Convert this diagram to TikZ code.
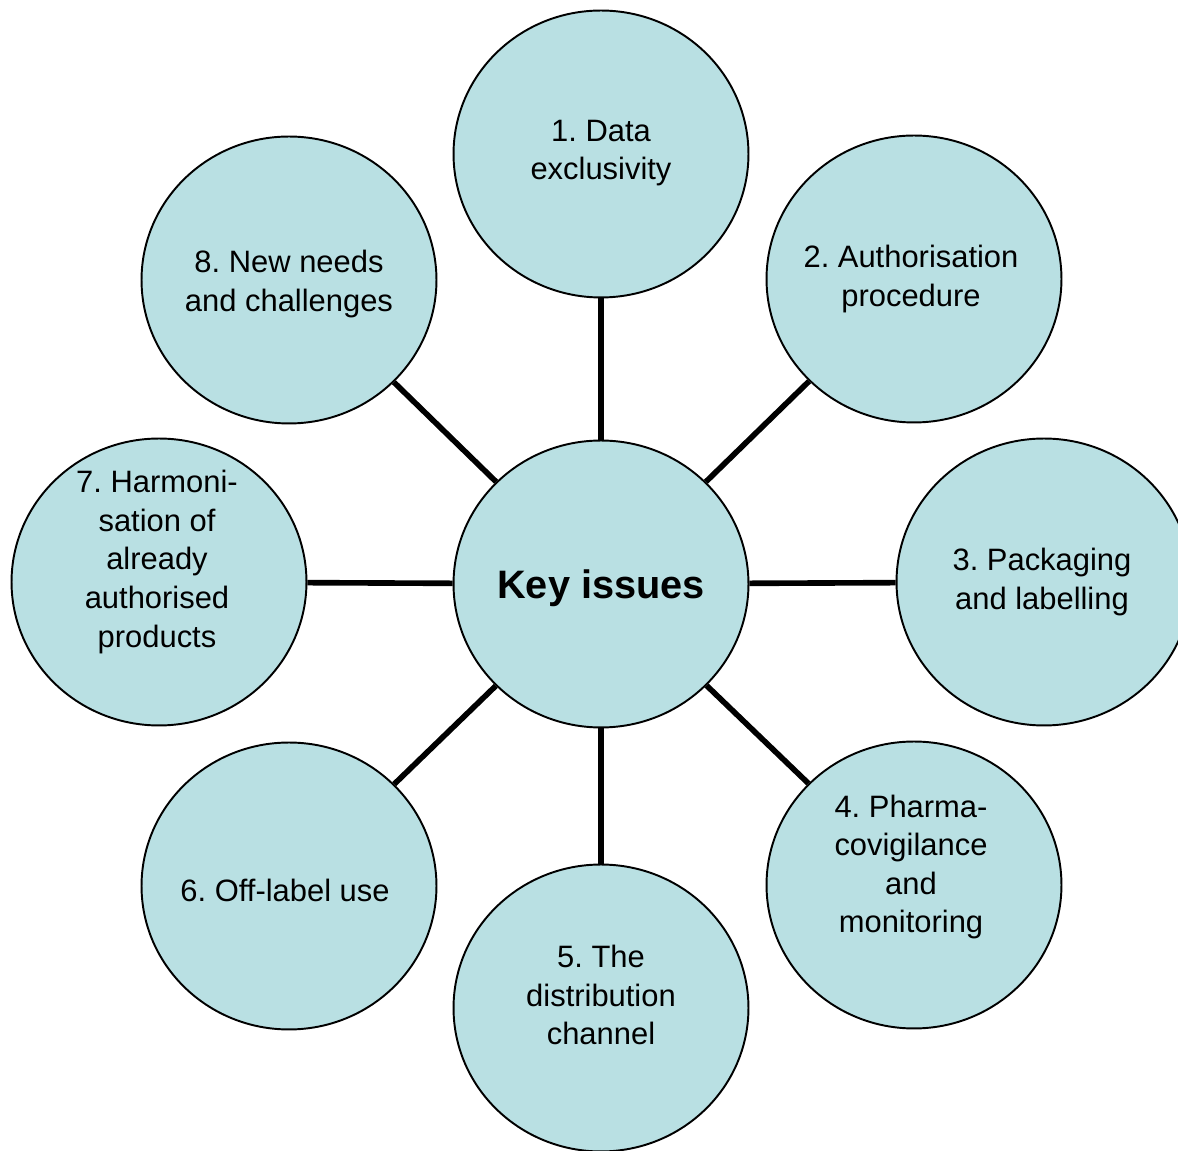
\documentclass[tikz,border=0pt]{standalone}
\usepackage{fontspec}
\setmainfont{Liberation Sans}
\usetikzlibrary{shapes.geometric}

\definecolor{issuefill}{RGB}{185,224,227}

\tikzset{
issue/.style={ellipse,draw=black,line width=1.1pt,fill=issuefill,
  minimum width=5.9cm,minimum height=5.74cm,inner sep=0pt},
txt/.style={align=center,font=\fontsize{17.6}{22}\selectfont,inner sep=0pt},
spoke/.style={line width=3.2pt}
}

\frenchspacing

\begin{document}
\begin{tikzpicture}[x=0.02cm,y=-0.02cm]

% Page frame
\useasboundingbox (0,0) rectangle (1178,1151);

% Hub
\node[issue] (key) at (601,584) {};
\node[txt,font=\fontsize{22.6}{26}\selectfont\bfseries] (tkey) at (601,588) {Key issues};

% Outer discs
\node[issue] (n1) at (601,154) {};
\node[issue] (n2) at (914,279) {};
\node[issue] (n3) at (1044,582) {};
\node[issue] (n4) at (914,885) {};
\node[issue] (n5) at (601,1008) {};
\node[issue] (n6) at (289,886) {};
\node[issue] (n7) at (159,582) {};
\node[issue] (n8) at (289,280) {};

% Spokes
\foreach \n in {1,...,8}
  \draw[spoke] (key) -- (n\n);

% Texts
\node[txt] (t1) at (601,153) {1. Data\\exclusivity};
\node[txt] (t2) at (911,279) {2. Authorisation\\procedure};
\node[txt] (t3) at (1042,582) {3. Packaging\\and labelling};
\node[txt] (t4) at (911,867) {4. Pharma-\\covigilance\\and\\monitoring};
\node[txt] (t5) at (601,995) {5. The\\distribution\\channel};
\node[txt] (t6) at (285,890) {6. Off-label use};
\node[txt] (t7) at (157,562) {7. Harmoni-\\sation of\\already\\authorised\\products};
\node[txt] (t8) at (289,284) {8. New needs\\and challenges};

\end{tikzpicture}
\end{document}
